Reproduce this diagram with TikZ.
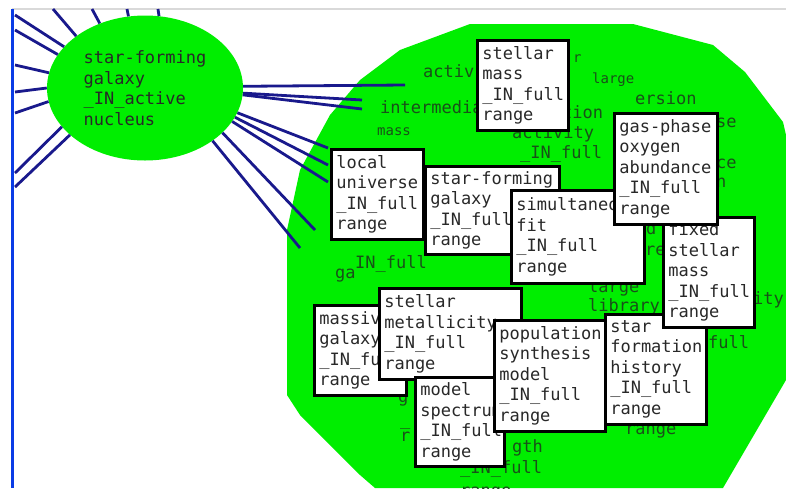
\documentclass[tikz,border=0pt]{standalone}
\usepackage{fontspec}
\setmonofont{DejaVu Sans Mono}
\usepackage{tikz}
\usetikzlibrary{shapes.geometric}
\definecolor{cmgreen}{RGB}{0,238,0}
\definecolor{cmnavy}{RGB}{25,25,140}
\definecolor{cmblue}{RGB}{10,60,230}
\definecolor{cmfrag}{RGB}{25,80,25}
\definecolor{cmtext}{RGB}{40,40,40}
\newcommand{\cmfont}{\ttfamily\fontsize{17}{20.5}\selectfont}
\newcommand{\cmsmall}{\ttfamily\fontsize{14}{17}\selectfont}

\begin{document}
\begin{tikzpicture}[x=1pt,y=-1pt,
	concept/.style={draw=black,line width=2.6pt,fill=white,anchor=north west,align=left,inner xsep=5pt,inner ysep=3pt,font=\cmfont,text=cmtext},
	frag/.style={anchor=base west,inner sep=0pt,font=\cmfont,text=cmfrag},
	fragsmall/.style={frag,font=\cmsmall},
	link/.style={cmnavy,line width=2.8pt}]
			\useasboundingbox (0,0) rectangle (786,488);
			\fill[white] (0,0) rectangle (786,488);
			\draw[gray!30,line width=1.5pt] (12,9) -- (786,9);
			\draw[cmblue,line width=3pt] (12,9) -- (12,488);
			% the large cluster
			\fill[cmgreen] (287,395) -- (287,230) -- (300,170) -- (330,115) -- (360,80) -- (400,50) -- (470,24) -- (633,24) -- (713,45) -- (745,72) -- (783,122) -- (786,135) -- (786,380) -- (723,488) -- (375,488) -- (360,475) -- (300,415) -- cycle;
			\node[ellipse,fill=cmgreen,minimum width=196pt,minimum height=145pt,inner sep=0pt,align=left,font=\cmfont,text=cmtext] (sfg) at (145,88) {star-forming\\galaxy\\\_IN\_active\\nucleus};
			% free ends of the links
			\coordinate (ea) at (15,15);
			\coordinate (eb) at (15,30);
			\coordinate (ec) at (53,9);
			\coordinate (ed) at (92,9);
			\coordinate (ee) at (127,9);
			\coordinate (ef) at (158,9);
			\coordinate (eg) at (15,65);
			\coordinate (eh) at (15,92);
			\coordinate (ei) at (15,113);
			\coordinate (ej) at (15,173);
			\coordinate (ek) at (15,187);
			\coordinate (el) at (405,85);
			\coordinate (em) at (362,100);
			\coordinate (en) at (362,109);
			\coordinate (eo) at (328,148);
			\coordinate (ep) at (328,165);
			\coordinate (eq) at (328,182);
			\coordinate (er) at (315,230);
			\coordinate (es) at (300,248);
			\draw[link] (sfg.153.7) -- (ea);
			\draw[link] (sfg.159.9) -- (eb);
			\draw[link] (sfg.143.6) -- (ec);
			\draw[link] (sfg.125.9) -- (ed);
			\draw[link] (sfg.103) -- (ee);
			\draw[link] (sfg.79) -- (ef);
			\draw[link] (sfg.171.3) -- (eg);
			\draw[link] (sfg.180) -- (eh);
			\draw[link] (sfg.188.8) -- (ei);
			\draw[link] (sfg.205.7) -- (ej);
			\draw[link] (sfg.212) -- (ek);
			\draw[link] (sfg.1) -- (el);
			\draw[link] (sfg.-3) -- (em);
			\draw[link] (sfg.-4) -- (en);
			\draw[link] (sfg.-15) -- (eo);
			\draw[link] (sfg.-18) -- (ep);
			\draw[link] (sfg.-21.7) -- (eq);
			\draw[link] (sfg.-30) -- (er);
			\draw[link] (sfg.-38.5) -- (es);
			% texts of the hidden concepts
			\node[frag] (f1) at (423,77) {activ};
			\node[frag] (f2) at (380,113) {intermedia};
			\node[fragsmall] (f3) at (377,135) {mass};
			\node[fragsmall] (f4) at (573,62) {r};
			\node[fragsmall] (f5) at (592,83) {large};
			\node[frag] (f6) at (562,118) {tion};
			\node[frag] (f7) at (512,138) {activity};
			\node[frag] (f8) at (520,158) {\_IN\_full};
			\node[frag] (f9) at (635,104) {ersion};
			\node[frag] (f10) at (716,127) {se};
			\node[frag] (f11) at (716,168) {ce};
			\node[frag] (f12) at (716,187) {n};
			\node[frag] (f13) at (646,234) {d};
			\node[frag] (f14) at (645,255) {re};
			\node[frag] (f15) at (753,304) {ity};
			\node[frag] (f16) at (708,348) {full};
			\node[frag] (f17) at (625,434) {range};
			\node[frag] (f18) at (335,278) {ga};
			\node[frag] (f19) at (355,268) {IN\_full};
			\node[frag] (f20) at (588,292) {large};
			\node[frag] (f21) at (588,311) {library};
			\node[frag] (f22) at (398,402) {g};
			\node[frag] (f23) at (400,425) {\_};
			\node[frag] (f24) at (400,441) {r};
			\node[frag] (f25) at (512,452) {gth};
			\node[frag] (f26) at (460,473) {\_IN\_full};
			\node[frag] (f27) at (460,496) {range};
			% the concepts
			\node[concept,minimum width=91pt,minimum height=90pt,text width=81pt] (smass) at (476,39) {stellar\\mass\\\_IN\_full\\range};
			\node[concept,minimum width=92pt,minimum height=90pt,text width=82pt] (local) at (330,148) {local\\universe\\\_IN\_full\\range};
			\node[concept,minimum width=134pt,minimum height=88pt,text width=124pt] (sfgal) at (424,165) {star-forming\\galaxy\\\_IN\_full\\range};
			\node[concept,minimum width=133pt,minimum height=93pt,text width=123pt] (simfit) at (510,189) {simultaneous\\fit\\\_IN\_full\\range};
			\node[concept,minimum width=101pt,minimum height=110pt,text width=91pt] (sfh) at (604,313) {star\\formation\\history\\\_IN\_full\\range};
			\node[concept,minimum width=91pt,minimum height=110pt,text width=81pt] (fixed) at (662,216) {fixed\\stellar\\mass\\\_IN\_full\\range};
			\node[concept,minimum width=103pt,minimum height=111pt,text width=93pt] (gas) at (613,112) {gas-phase\\oxygen\\abundance\\\_IN\_full\\range};
			\node[concept,minimum width=92pt,minimum height=90pt,text width=82pt] (massive) at (313,304) {massive\\galaxy\\\_IN\_full\\range};
			\node[concept,minimum width=142pt,minimum height=91pt,text width=132pt] (smetal) at (378,287) {stellar\\metallicity\\\_IN\_full\\range};
			\node[concept,minimum width=89pt,minimum height=89pt,text width=79pt] (model) at (414,376) {model\\spectrum\\\_IN\_full\\range};
			\node[concept,minimum width=111pt,minimum height=111pt,text width=101pt] (popsyn) at (493,319) {population\\synthesis\\model\\\_IN\_full\\range};
		\end{tikzpicture}
\end{document}
